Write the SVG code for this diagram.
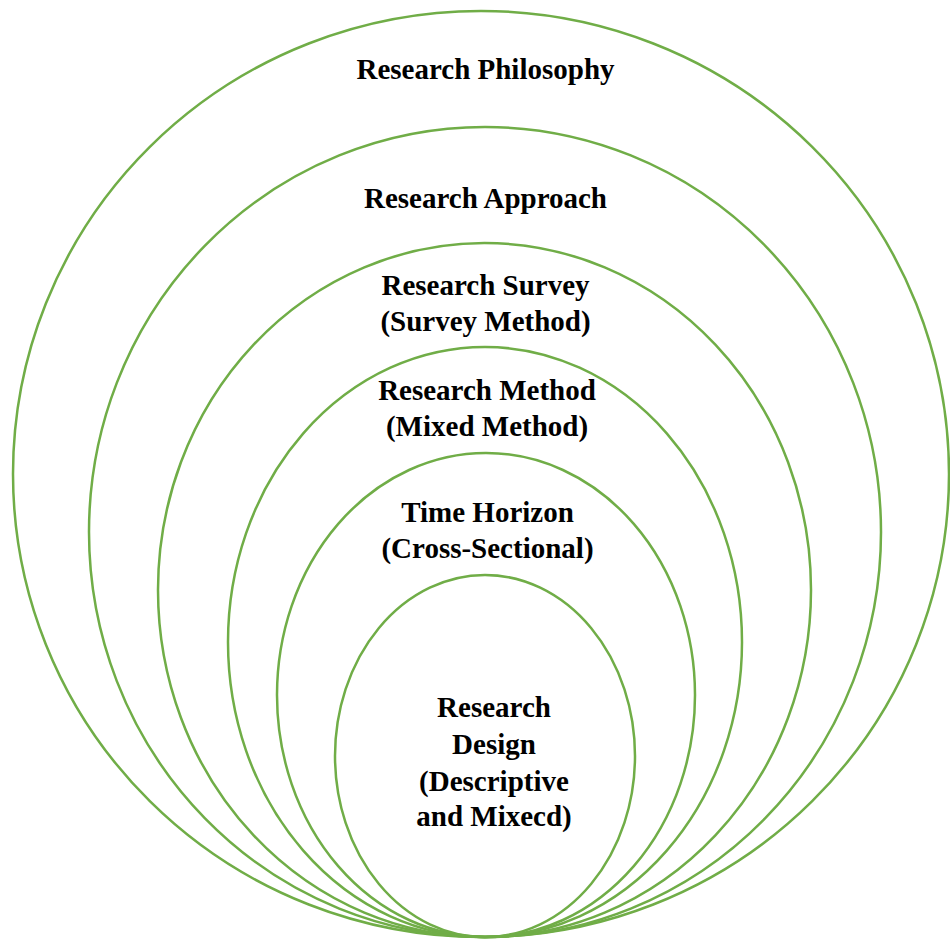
<svg xmlns="http://www.w3.org/2000/svg" width="950" height="939" viewBox="0 0 950 939">
<style>
.ring{fill:none;stroke:#70AD47;stroke-width:2.5}
.lbl{font-family:"Liberation Serif","Times New Roman",serif;font-weight:bold;font-size:29px;fill:#000;text-anchor:middle}
</style>
<rect width="950" height="939" fill="#fff"/>
<g id="philosophy"><ellipse class="ring" cx="481" cy="474" rx="468" ry="463"/><text class="lbl" x="485.5" y="79">Research Philosophy</text></g>
<g id="approach"><ellipse class="ring" cx="485" cy="532" rx="396" ry="405"/><text class="lbl" x="485.5" y="208">Research Approach</text></g>
<g id="survey"><ellipse class="ring" cx="484.5" cy="590" rx="326.5" ry="347"/><text class="lbl" x="485.5" y="295">Research Survey</text><text class="lbl" x="485.5" y="331">(Survey Method)</text></g>
<g id="method"><ellipse class="ring" cx="485" cy="642" rx="257" ry="295"/><text class="lbl" x="487" y="400">Research Method</text><text class="lbl" x="487" y="436">(Mixed Method)</text></g>
<g id="time"><ellipse class="ring" cx="486" cy="695" rx="209" ry="242"/><text class="lbl" x="487.5" y="522">Time Horizon</text><text class="lbl" x="487.5" y="558">(Cross-Sectional)</text></g>
<g id="design"><ellipse class="ring" cx="485" cy="756" rx="150" ry="181"/><text class="lbl" x="494" y="717">Research</text><text class="lbl" x="494" y="754">Design</text><text class="lbl" x="494" y="791">(Descriptive</text><text class="lbl" x="494" y="826">and Mixecd)</text></g>
</svg>
